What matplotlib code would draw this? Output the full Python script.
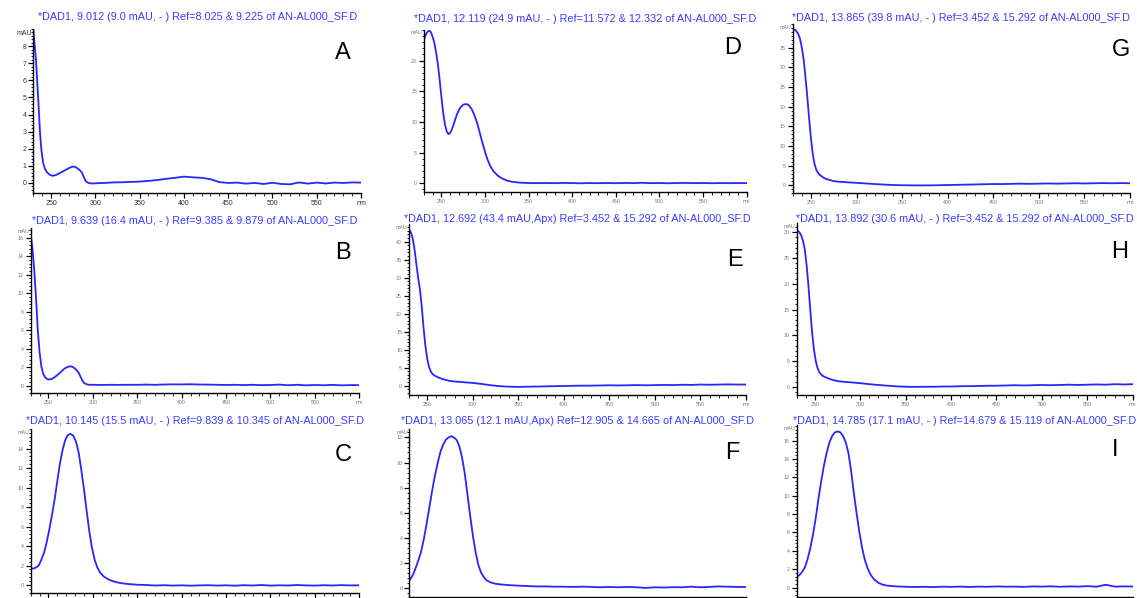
import matplotlib
matplotlib.use("Agg")
import matplotlib.pyplot as plt
import numpy as np
from matplotlib.ticker import MultipleLocator

plt.rcParams['font.family'] = ['Liberation Sans', 'DejaVu Sans']

# --- spectra (wavelength in nm, absorbance in mAU) ---
base_wl = [360, 370, 380, 390, 400, 410, 420, 430, 440, 450, 460, 470, 480,
           490, 500, 510, 520, 530, 540, 550, 560, 570, 580, 590, 600]

wl_a = [230, 233, 235, 236, 237.5, 239, 241, 243, 245, 248, 251, 255, 260, 265,
        270, 274, 277, 280, 283, 285, 287, 289, 291, 294, 297, 300, 310, 320,
        330, 340, 350] + base_wl
abs_a = [9.0, 7.2, 5.4, 4.5, 3.0, 2.0, 1.2, 0.85, 0.65, 0.5, 0.42, 0.45, 0.58,
         0.72, 0.86, 0.95, 0.95, 0.85, 0.72, 0.6, 0.35, 0.12, 0.03, -0.02,
         -0.03, -0.02, 0.0, 0.03, 0.04, 0.06, 0.08,
         0.12, 0.17, 0.24, 0.3, 0.37, 0.33, 0.3, 0.22, 0.05, 0.0, 0.02, -0.04,
         0.0, -0.06, 0.01, -0.06, -0.08, 0.03, -0.04, 0.02, -0.03, 0.02, 0.0,
         0.03, 0.02]

wl_b = [230, 232, 234, 236, 238, 240, 242, 244, 246, 248, 250, 253, 256, 260,
        264, 268, 272, 275, 278, 281, 284, 286, 288, 290, 293, 296, 300, 310,
        320, 330, 340, 350] + base_wl
abs_b = [16.4, 14.8, 12.5, 9.5, 6.0, 3.6, 2.1, 1.3, 0.95, 0.75, 0.68, 0.7, 0.85,
         1.15, 1.5, 1.85, 2.05, 2.1, 2.0, 1.75, 1.4, 1.0, 0.6, 0.3, 0.15, 0.1,
         0.1, 0.08, 0.1, 0.09, 0.1, 0.1,
         0.12, 0.1, 0.13, 0.15, 0.14, 0.16, 0.13, 0.12, 0.1, 0.08, 0.1, 0.07,
         0.1, 0.06, 0.08, 0.12, 0.05, 0.1, 0.04, 0.08, 0.05, 0.09, 0.04, 0.07,
         0.06]

wl_c = [230, 233, 236, 239, 242, 245, 248, 251, 254, 257, 260, 263, 266, 269,
        272, 275, 278, 281, 284, 287, 290, 293, 296, 299, 302, 305, 308, 312,
        316, 320, 325, 330, 335, 340, 350] + base_wl
abs_c = [1.7, 1.68, 1.8, 2.0, 2.6, 3.3, 4.4, 5.7, 7.2, 8.8, 10.7, 12.5, 13.9,
         14.9, 15.4, 15.5, 15.3, 14.7, 13.6, 11.8, 9.8, 7.6, 5.5, 3.8, 2.6, 1.8,
         1.3, 0.9, 0.65, 0.48, 0.32, 0.22, 0.15, 0.1, 0.03,
         0.0, -0.05, -0.02, -0.06, -0.03, -0.07, -0.04, -0.02, -0.06, -0.03,
         -0.07, -0.02, -0.05, 0.0, -0.06, -0.03, -0.05, 0.0, -0.04, -0.06,
         -0.02, -0.05, -0.01, -0.04, -0.03]

wl_d = [230, 233, 236, 238, 240, 242, 244, 246, 248, 250, 252, 254, 256, 258,
        260, 262, 264, 266, 268, 270, 272, 275, 278, 280, 282, 285, 288, 291,
        294, 297, 300, 303, 306, 310, 315, 320, 325, 330, 335, 340, 350] + base_wl
abs_d = [23.5, 24.5, 24.9, 24.6, 23.8, 22.8, 21.2, 19.3, 16.8, 14.0, 11.5, 9.6,
         8.5, 8.0, 8.2, 8.8, 9.6, 10.5, 11.3, 11.9, 12.4, 12.8, 12.9, 12.85,
         12.6, 12.0, 11.0, 9.8, 8.2, 6.6, 5.1, 3.8, 2.8, 1.9, 1.2, 0.75, 0.45,
         0.28, 0.18, 0.1, 0.05,
         0.03, 0.05, 0.02, 0.06, 0.03, 0.0, 0.04, 0.02, 0.05, 0.01, 0.06, 0.03,
         0.08, 0.02, 0.05, 0.0, 0.04, 0.06, 0.02, 0.05, 0.01, 0.04, 0.02, 0.05,
         0.03]

wl_e = [230, 232, 234, 236, 238, 240, 242, 244, 246, 248, 250, 252, 254, 256,
        258, 262, 266, 270, 275, 280, 290, 300, 310, 320, 330, 340, 350] + base_wl
abs_e = [43.3, 42.6, 41.0, 38.0, 34.0, 30.0, 26.8, 22.0, 16.0, 11.0, 7.5, 5.2,
         3.9, 3.2, 2.8, 2.3, 1.9, 1.6, 1.3, 1.15, 0.95, 0.75, 0.45, 0.1, -0.15,
         -0.3, -0.35,
         -0.3, -0.25, -0.2, -0.15, -0.1, -0.05, 0.0, 0.0, 0.05, 0.1, 0.05, 0.1,
         0.15, 0.1, 0.15, 0.2, 0.15, 0.25, 0.2, 0.3, 0.25, 0.3, 0.35, 0.3, 0.3]

wl_f = [230, 232, 234, 236, 238, 240, 243, 246, 249, 252, 255, 258, 261, 264,
        267, 270, 273, 276, 279, 282, 285, 288, 291, 294, 297, 300, 303, 306,
        309, 312, 315, 320, 325, 330, 340, 350] + base_wl
abs_f = [0.6, 0.8, 1.05, 1.4, 1.8, 2.2, 2.9, 3.9, 5.1, 6.4, 7.7, 8.9, 9.9, 10.8,
         11.4, 11.8, 12.0, 12.1, 12.0, 11.8, 11.3, 10.4, 9.1, 7.4, 5.7, 4.1,
         2.8, 1.8, 1.2, 0.85, 0.6, 0.42, 0.33, 0.28, 0.22, 0.18,
         0.15, 0.12, 0.12, 0.1, 0.1, 0.08, 0.1, 0.08, 0.05, 0.08, 0.05, 0.08,
         0.05, 0.0, 0.05, 0.03, 0.06, 0.05, 0.1, 0.05, 0.08, 0.12, 0.1, 0.08,
         0.07]

wl_g = [230, 233, 236, 238, 240, 242, 244, 246, 248, 250, 252, 254, 256, 258,
        260, 265, 270, 275, 280, 290, 300, 310, 320, 330, 340, 350] + base_wl
abs_g = [39.7, 39.5, 38.5, 37.3, 35.0, 32.0, 27.5, 22.5, 17.0, 12.0, 8.0, 5.4,
         3.9, 3.1, 2.6, 1.8, 1.4, 1.1, 0.95, 0.8, 0.65, 0.5, 0.35, 0.22, 0.1,
         0.05,
         0.02, 0.0, 0.02, 0.05, 0.1, 0.15, 0.2, 0.25, 0.3, 0.35, 0.35, 0.4,
         0.45, 0.4, 0.45, 0.5, 0.45, 0.5, 0.55, 0.5, 0.55, 0.6, 0.55, 0.6, 0.55]

wl_h = [230, 233, 235, 237, 239, 241, 243, 245, 247, 249, 251, 253, 255, 258,
        261, 265, 270, 275, 280, 290, 300, 310, 320, 330, 340, 350] + base_wl
abs_h = [30.5, 30.0, 29.4, 28.3, 26.6, 23.5, 19.5, 14.8, 10.5, 7.2, 5.0, 3.6,
         2.8, 2.2, 1.9, 1.6, 1.3, 1.1, 1.0, 0.85, 0.7, 0.5, 0.35, 0.2, 0.08,
         0.0,
         -0.02, 0.0, 0.0, 0.05, 0.05, 0.1, 0.12, 0.15, 0.2, 0.2, 0.25, 0.3,
         0.25, 0.3, 0.35, 0.3, 0.35, 0.4, 0.35, 0.4, 0.45, 0.4, 0.5, 0.45, 0.5]

wl_i = [230, 233, 236, 239, 242, 245, 248, 251, 254, 257, 260, 263, 266, 269,
        272, 275, 278, 281, 284, 287, 290, 293, 296, 299, 302, 305, 308, 311,
        315, 320, 325, 330, 340, 350] + base_wl
abs_i = [1.15, 1.35, 1.7, 2.2, 3.1, 4.3, 5.8, 7.6, 9.7, 11.6, 13.3, 14.7, 15.8,
         16.5, 16.9, 17.0, 16.9, 16.5, 15.8, 14.6, 12.6, 10.2, 8.0, 6.0, 4.3,
         3.0, 2.1, 1.45, 0.9, 0.5, 0.3, 0.2, 0.12, 0.08,
         0.06, 0.08, 0.05, 0.09, 0.07, 0.1, 0.06, 0.1, 0.08, 0.12, 0.09, 0.1,
         0.07, 0.12, 0.1, 0.13, 0.08, 0.12, 0.1, 0.15, 0.09, 0.3, 0.1, 0.12,
         0.11]

titles = {
    'A': "*DAD1, 9.012 (9.0 mAU, - ) Ref=8.025 & 9.225 of AN-AL000_SF.D",
    'B': "*DAD1, 9.639 (16.4 mAU, - ) Ref=9.385 & 9.879 of AN-AL000_SF.D",
    'C': "*DAD1, 10.145 (15.5 mAU, - ) Ref=9.839 & 10.345 of AN-AL000_SF.D",
    'D': "*DAD1, 12.119 (24.9 mAU, - ) Ref=11.572 & 12.332 of AN-AL000_SF.D",
    'E': "*DAD1, 12.692 (43.4 mAU,Apx) Ref=3.452 & 15.292 of AN-AL000_SF.D",
    'F': "*DAD1, 13.065 (12.1 mAU,Apx) Ref=12.905 & 14.665 of AN-AL000_SF.D",
    'G': "*DAD1, 13.865 (39.8 mAU, - ) Ref=3.452 & 15.292 of AN-AL000_SF.D",
    'H': "*DAD1, 13.892 (30.6 mAU, - ) Ref=3.452 & 15.292 of AN-AL000_SF.D",
    'I': "*DAD1, 14.785 (17.1 mAU, - ) Ref=14.679 & 15.119 of AN-AL000_SF.D",
}

spectra = {
    'A': (wl_a, abs_a), 'B': (wl_b, abs_b), 'C': (wl_c, abs_c),
    'D': (wl_d, abs_d), 'E': (wl_e, abs_e), 'F': (wl_f, abs_f),
    'G': (wl_g, abs_g), 'H': (wl_h, abs_h), 'I': (wl_i, abs_i),
}

# y range, major step, minor step, highest labelled tick
yaxes = {
    'A': (-0.57, 9.0, 1, 0.2, 8),
    'B': (-0.82, 17.05, 2, 0.4, 16),
    'C': (-0.85, 16.0, 2, 0.4, 14),
    'D': (-1.37, 25.05, 5, 1, 20),
    'E': (-2.6, 44.9, 5, 1, 40),
    'F': (-0.7, 12.65, 2, 0.4, 12),
    'G': (-2.0, 41.0, 5, 1, 35),
    'H': (-1.6, 31.75, 5, 1, 30),
    'I': (-1.0, 17.7, 2, 0.4, 16),
}

# panel boxes in pixels: left, top, right, bottom; title y; letter x, y
W, H = 1137, 598
boxes = {
    'A': (33.3, 29, 361, 192.7, 17, 343, 53),
    'B': (30.7, 228, 359.3, 393.3, 221.5, 343, 253),
    'C': (30.7, 429, 359.3, 593.3, 421.5, 343, 455),
    'D': (424, 29.5, 746.7, 191.7, 19, 733, 48),
    'E': (409, 224, 746, 395, 218.5, 735, 260),
    'F': (409.3, 429.3, 746, 596.7, 421, 732, 453),
    'G': (792.7, 24, 1130, 193.3, 18, 1121, 50),
    'H': (796.7, 223.3, 1132.7, 395, 219.5, 1120, 252),
    'I': (796.7, 425, 1133, 596.7, 420.5, 1115, 450),
}

line_color = '#2626ff'
title_color = '#3b3bff'

fig = plt.figure(figsize=(W / 100, H / 100), dpi=100)

for key in 'ABCDEFGHI':
    left, top, right, bottom, ty, lx, ly = boxes[key]
    ax = fig.add_axes([left / W, 1 - bottom / H, (right - left) / W, (bottom - top) / H])
    wl, ab = spectra[key]
    ax.plot(wl, ab, color=line_color, lw=1.3)

    ymin, ymax, ymaj, ymin_step, ylab_max = yaxes[key]
    ax.set_xlim(230, 600)
    ax.set_ylim(ymin, ymax)

    for s in ['top', 'right']:
        ax.spines[s].set_visible(False)
    for s in ['left', 'bottom']:
        ax.spines[s].set_linewidth(1.0)

    big = key == 'A'
    lab_size = 5 if big else 3.8
    lab_color = '#333333' if big else '#777777'

    xt = np.arange(250, 601, 50)
    ax.set_xticks(xt)
    ax.set_xticklabels([str(v) for v in xt[:-1]] + ['nm'])
    ax.xaxis.set_minor_locator(MultipleLocator(10))
    ax.set_yticks(np.arange(0, ylab_max + 0.01, ymaj))
    ax.yaxis.set_minor_locator(MultipleLocator(ymin_step))
    ax.tick_params(which='major', direction='out', length=3.5, width=0.9,
                   labelsize=lab_size, labelcolor=lab_color, pad=1.5)
    ax.tick_params(which='minor', direction='out', length=1.8, width=0.6)
    # bottom row runs to the lower edge, so only its tick marks show
    if key in 'CFI':
        ax.tick_params(axis='x', labelbottom=False)

    ax.text(-0.004, 0.995, 'mAU', transform=ax.transAxes, ha='right', va='top',
            fontsize=lab_size, color=lab_color)

    fig.text((left + right) / 2 / W, 1 - ty / H, titles[key], ha='center',
             va='center', fontsize=7.8, color=title_color)
    fig.text(lx / W, 1 - ly / H, key, ha='center', va='center', fontsize=17,
             color='black')

fig.savefig('out.png', dpi=100)
